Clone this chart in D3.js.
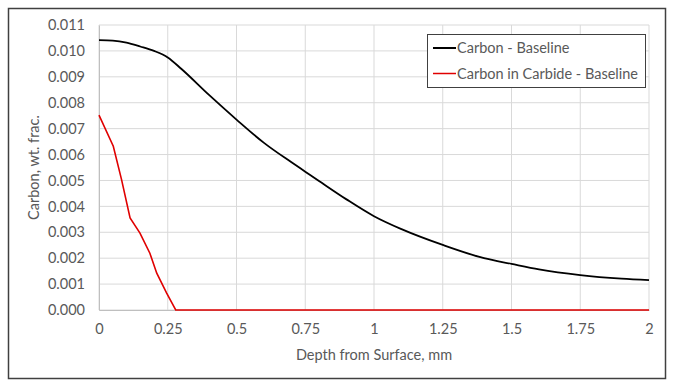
<!DOCTYPE html>
<html>
<head>
<meta charset="utf-8">
<script src="https://cdn.jsdelivr.net/npm/d3@7"></script>
<style>
  body { margin: 0; background: #fff; }
  text { font-family: Lato, "Open Sans", sans-serif; fill: #595959; }
</style>
</head>
<body>
<svg id="chart" width="675" height="387"></svg>
<script>
// data
var carbonDepth = [0, 0.05, 0.1, 0.15, 0.2, 0.25, 0.3, 0.4, 0.5, 0.6, 0.7, 0.75, 0.8, 0.9, 1.0, 1.1, 1.25, 1.4, 1.5, 1.6, 1.75, 1.9, 2.0];
var carbonValue = [0.01042, 0.0104, 0.01032, 0.01017, 0.01, 0.00975, 0.0093, 0.0083, 0.00735, 0.00645, 0.0057, 0.00534, 0.00498, 0.00427, 0.00362, 0.00312, 0.00251, 0.002, 0.00178, 0.00157, 0.00135, 0.00121, 0.00115];
var carbideDepth = [0, 0.052, 0.082, 0.113, 0.149, 0.185, 0.21, 0.246, 0.279, 2.0];
var carbideValue = [0.00752, 0.00632, 0.00503, 0.00355, 0.00297, 0.00219, 0.00142, 0.00065, 0, 0];
var xTicks = [0, 0.25, 0.5, 0.75, 1, 1.25, 1.5, 1.75, 2];
var yTicks = d3.range(0, 12).map(function(i){ return i * 0.001; });
var seriesNames = ["Carbon - Baseline", "Carbon in Carbide - Baseline"];
var seriesColors = ["#000000", "#e00000"];

var svg = d3.select("#chart");
var plotL = 99, plotR = 649, plotT = 25, plotB = 310;
var fs = 14.5;

var x = d3.scaleLinear().domain([0, 2]).range([plotL, plotR]);
var y = d3.scaleLinear().domain([0, 0.011]).range([plotB, plotT]);

// frame
svg.append("rect")
  .attr("x", 8.5).attr("y", 8.5).attr("width", 657).attr("height", 370)
  .attr("fill", "#fff").attr("stroke", "#404040").attr("stroke-width", 1.5);

// gridlines
svg.append("g").selectAll("line").data(xTicks).enter().append("line")
  .attr("x1", function(d){ return x(d); }).attr("x2", function(d){ return x(d); })
  .attr("y1", plotT).attr("y2", plotB)
  .attr("stroke", "#d9d9d9").attr("stroke-width", 1);
svg.append("g").selectAll("line").data(yTicks).enter().append("line")
  .attr("x1", plotL).attr("x2", plotR)
  .attr("y1", function(d){ return y(d); }).attr("y2", function(d){ return y(d); })
  .attr("stroke", "#d9d9d9").attr("stroke-width", 1);

// axes
var xAxis = d3.axisBottom(x).tickValues(xTicks).tickSize(0).tickPadding(14)
  .tickFormat(function(d){ return d3.format("")(d); });
var gx = svg.append("g").attr("transform", "translate(0," + plotB + ")").call(xAxis);
gx.select(".domain").attr("stroke", "#bfbfbf");
gx.selectAll("text").attr("font-size", fs).style("font-family", "Lato, sans-serif").attr("fill", "#595959");

var yAxis = d3.axisLeft(y).tickValues(yTicks).tickSize(0).tickPadding(14)
  .tickFormat(d3.format(".3f"));
var gy = svg.append("g").attr("transform", "translate(" + plotL + ",0)").call(yAxis);
gy.select(".domain").attr("stroke", "#bfbfbf");
gy.selectAll("text").attr("font-size", fs).style("font-family", "Lato, sans-serif").attr("fill", "#595959");

// axis titles
svg.append("text").attr("x", (plotL + plotR) / 2).attr("y", 360)
  .attr("text-anchor", "middle").attr("font-size", fs).text("Depth from Surface, mm");
svg.append("text").attr("transform", "translate(39," + ((plotT + plotB) / 2) + ") rotate(-90)")
  .attr("text-anchor", "middle").attr("font-size", fs).text("Carbon, wt. frac.");

// lines
var line = d3.line()
  .x(function(d){ return x(d[0]); })
  .y(function(d){ return y(d[1]); });

var carbon = carbonDepth.map(function(d, i){ return [d, carbonValue[i]]; });
var carbide = carbideDepth.map(function(d, i){ return [d, carbideValue[i]]; });

svg.append("path").datum(carbide).attr("d", line.curve(d3.curveLinear))
  .attr("fill", "none").attr("stroke", seriesColors[1]).attr("stroke-width", 1.6);
svg.append("path").datum(carbon).attr("d", line.curve(d3.curveMonotoneX))
  .attr("fill", "none").attr("stroke", seriesColors[0]).attr("stroke-width", 1.8);

// legend
var lg = svg.append("g");
lg.append("rect").attr("x", 427.5).attr("y", 34.5).attr("width", 218).attr("height", 53)
  .attr("fill", "#fff").attr("stroke", "#404040").attr("stroke-width", 1);
seriesNames.forEach(function(name, i){
  var ly = 48 + i * 25.5;
  lg.append("line").attr("x1", 433).attr("x2", 456).attr("y1", ly).attr("y2", ly)
    .attr("stroke", seriesColors[i]).attr("stroke-width", i == 0 ? 2 : 1.5);
  lg.append("text").attr("x", 457).attr("y", ly + 5).attr("font-size", fs).text(name);
});
</script>
</body>
</html>
